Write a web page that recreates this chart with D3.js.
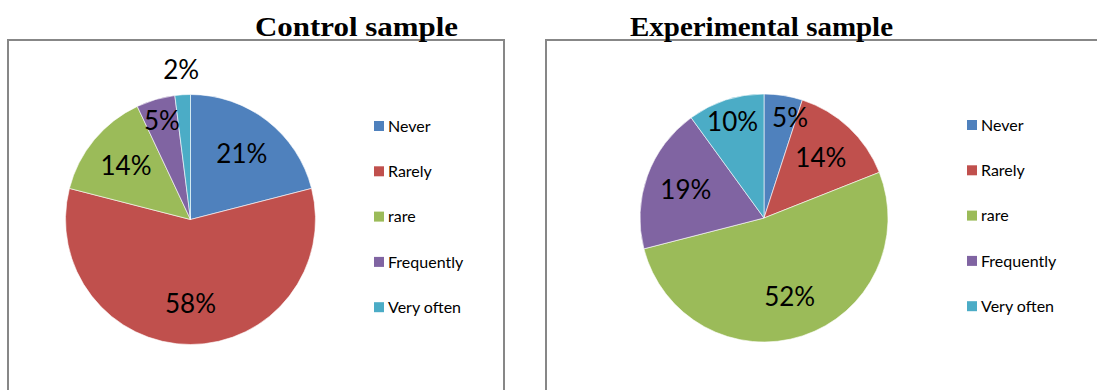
<!DOCTYPE html>
<html>
<head>
<meta charset="utf-8">
<script src="https://cdn.jsdelivr.net/npm/d3@7/dist/d3.min.js"></script>
<style>
  html, body { margin: 0; padding: 0; background: #ffffff; }
  svg { display: block; }
</style>
</head>
<body>
<svg id="chart" width="1097" height="390"></svg>
<script>
// Response categories shared by both samples
const categories = ["Never", "Rarely", "rare", "Frequently", "Very often"];

// Percentage of respondents in each category
const controlValues = [21, 58, 14, 5, 2];
const experimentalValues = [5, 14, 52, 19, 10];

// Panel titles
const titles = ["Control sample", "Experimental sample"];

const colors = ["#4F81BD", "#C0504D", "#9BBB59", "#8064A2", "#4BACC6"];

const svg = d3.select("#chart");
const H = 390;

const color = d3.scaleOrdinal().domain(categories).range(colors);

const panels = [
  { title: titles[0], values: controlValues, titleW: 203,
    box: { x: 8, y: 40, w: 496 }, titleX: 356.5, cx: 190.5, cy: 219.5, r: 125,
    legendX: 374, legendY: 126 },
  { title: titles[1], values: experimentalValues, titleW: 263,
    box: { x: 546, y: 40, w: 600 }, titleX: 761.5, cx: 764, cy: 218, r: 124,
    legendX: 967, legendY: 125 }
];

const pie = d3.pie().sort(null).value(d => d.value);
const legendStep = 45.3;
const labelFont = "Lato, 'Open Sans', sans-serif";

panels.forEach(p => {
  const g = svg.append("g");

  // chart frame (open at the bottom edge of the view)
  g.append("rect")
    .attr("x", p.box.x).attr("y", p.box.y)
    .attr("width", p.box.w).attr("height", H + 20)
    .attr("fill", "#ffffff")
    .attr("stroke", "#878787").attr("stroke-width", 2);

  g.append("text")
    .attr("x", p.titleX).attr("y", 35.5)
    .attr("text-anchor", "middle")
    .attr("font-family", "'Liberation Serif', 'Times New Roman', serif")
    .attr("font-weight", "bold")
    .attr("font-size", 28)
    .attr("textLength", p.titleW)
    .attr("lengthAdjust", "spacingAndGlyphs")
    .attr("fill", "#000")
    .text(p.title);

  const data = categories.map((c, i) => ({ category: c, value: p.values[i] }));
  const arcs = pie(data);
  const arc = d3.arc().innerRadius(0).outerRadius(p.r);

  const pg = g.append("g").attr("transform", `translate(${p.cx},${p.cy})`);

  pg.selectAll("path.slice")
    .data(arcs)
    .join("path")
    .attr("class", "slice")
    .attr("d", arc)
    .attr("fill", d => color(d.data.category))
    .attr("stroke", "#ffffff")
    .attr("stroke-width", 0.6);

  // labels: large slices inside at ~2/3 radius, narrow ones pushed outward,
  // the narrowest placed just outside the rim
  const total = d3.sum(p.values);
  arcs.forEach(d => {
    const frac = d.data.value / total;
    const k = frac < 0.04 ? 1.2 : frac < 0.12 ? 0.82 : 0.67;
    const a = (d.startAngle + d.endAngle) / 2;
    d.lx = Math.sin(a) * p.r * k;
    d.ly = -Math.cos(a) * p.r * k;
  });

  const labels = pg.selectAll("text.val")
    .data(arcs)
    .join("text")
    .attr("class", "val")
    .attr("text-anchor", "middle")
    .attr("dy", "0.36em")
    .attr("font-family", labelFont)
    .attr("font-size", 26)
    .attr("fill", "#000")
    .text(d => d.data.value + "%");

  labels.each(function (d) { d.lw = this.getComputedTextLength(); });

  // keep neighbouring labels apart: the smaller slice's label gives way sideways
  const gap = 14, lh = 20;
  for (let i = 0; i < arcs.length; i++) {
    for (let j = 0; j < arcs.length; j++) {
      if (i === j) continue;
      const A = arcs[i], B = arcs[j];
      if (A.data.value > B.data.value) continue;
      if (Math.abs(A.ly - B.ly) >= lh) continue;
      const need = (A.lw + B.lw) / 2 + gap;
      const dx = A.lx - B.lx;
      if (Math.abs(dx) < need) {
        A.lx = B.lx + Math.sign(dx || 1) * need;
      }
    }
  }

  labels.attr("transform", d => `translate(${d.lx},${d.ly})`);

  // legend
  const lg = g.append("g").attr("transform", `translate(${p.legendX},${p.legendY})`);
  const items = lg.selectAll("g.item")
    .data(categories)
    .join("g")
    .attr("class", "item")
    .attr("transform", (d, i) => `translate(0,${i * legendStep})`);

  items.append("rect")
    .attr("x", 0).attr("y", -5)
    .attr("width", 10).attr("height", 10)
    .attr("fill", d => color(d));

  items.append("text")
    .attr("x", 14).attr("y", 0)
    .attr("dy", "0.36em")
    .attr("font-family", labelFont)
    .attr("font-size", 16)
    .attr("fill", "#000")
    .text(d => d);
});
</script>
</body>
</html>
